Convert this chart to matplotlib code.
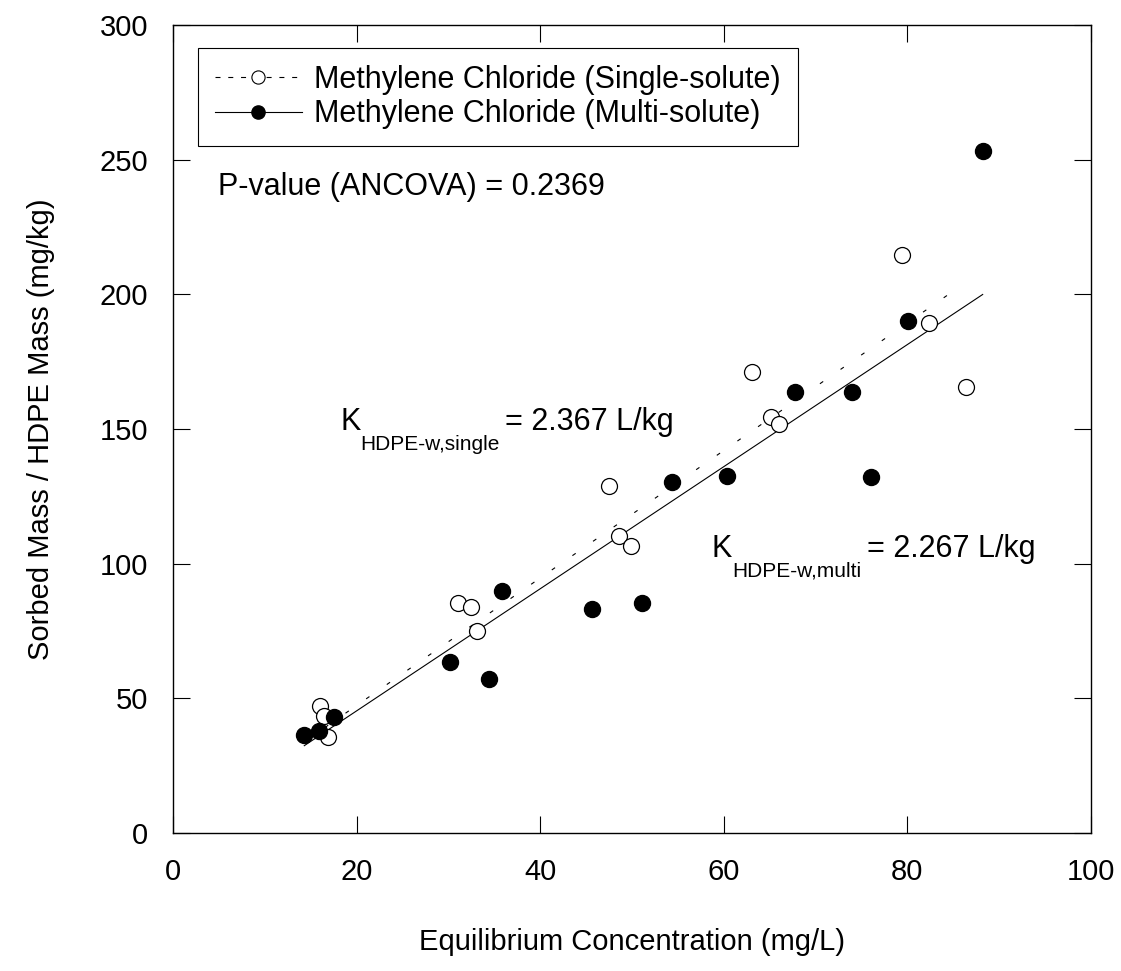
import numpy as np
import matplotlib
matplotlib.use("Agg")
import matplotlib.pyplot as plt
from matplotlib.lines import Line2D

plt.rcParams['font.family'] = ['Liberation Sans', 'DejaVu Sans']

# single-solute sorption data (open circles)
x_single = [16.0, 16.4, 16.9, 31.1, 32.5, 33.1, 47.5, 48.6, 49.9, 63.1, 65.1, 66.0, 79.4, 82.4, 86.4]
y_single = [47.2, 43.4, 35.5, 85.3, 83.8, 75.0, 128.9, 110.3, 106.6, 171.2, 154.6, 151.9, 214.5, 189.5, 165.6]

# multi-solute sorption data (filled circles)
x_multi = [14.3, 15.9, 17.5, 30.2, 34.4, 35.8, 45.6, 51.1, 54.4, 60.4, 67.8, 74.0, 76.0, 80.1, 88.2]
y_multi = [36.4, 38.0, 43.2, 63.6, 57.1, 90.0, 83.1, 85.3, 130.2, 132.5, 163.6, 163.8, 132.3, 190.2, 253.4]

# partition coefficients (slopes of fits through origin) and x-range of each fit line
k_single = 2.367
k_multi = 2.267
fit_x_single = [14.3, 86.0]
fit_x_multi = [14.3, 88.2]

fig = plt.figure(figsize=(11.21, 9.71), dpi=100)
ax = fig.add_axes([173/1121, 1-833/971, (1091-173)/1121, (833-25)/971])

xs = np.array(fit_x_single)
xm = np.array(fit_x_multi)
ax.plot(xs, k_single*xs, color='black', lw=0.8, dashes=(3.6, 19))
ax.plot(xm, k_multi*xm, color='black', lw=0.8)

ax.plot(x_single, y_single, 'o', ms=11.5, mfc='white', mec='black', mew=0.9, ls='none', zorder=3)
ax.plot(x_multi, y_multi, 'o', ms=11.5, mfc='black', mec='black', ls='none', zorder=3)

ax.set_xlim(0, 100)
ax.set_ylim(0, 300)
ax.set_xticks([0, 20, 40, 60, 80, 100])
ax.set_yticks([0, 50, 100, 150, 200, 250, 300])
ax.tick_params(direction='in', length=12, width=0.8, top=True, right=True,
               labelsize=21, pad=18)
for s in ax.spines.values():
    s.set_linewidth(1.0)

ax.set_xlabel('Equilibrium Concentration (mg/L)', fontsize=21, labelpad=30)
ax.set_ylabel('Sorbed Mass / HDPE Mass (mg/kg)', fontsize=21, labelpad=32)

# legend with proxy handles
h1 = Line2D([], [], color='black', lw=0.8, dashes=(4.5, 7), marker='o', ms=9.5,
            mfc='white', mec='black', mew=0.8)
h2 = Line2D([], [], color='black', lw=0.8, marker='o', ms=9.5, mfc='black', mec='black')
leg = ax.legend([h1, h2], ['Methylene Chloride (Single-solute)', 'Methylene Chloride (Multi-solute)'],
                loc='upper left', bbox_to_anchor=(0.0272, 0.9715), borderaxespad=0,
                fontsize=22, handlelength=2.85, handletextpad=0.4, labelspacing=0.15,
                fancybox=False, framealpha=1, edgecolor='black', borderpad=0.55)
leg.get_frame().set_linewidth(0.8)

ax.text(4.9, 240, 'P-value (ANCOVA) = 0.2369', fontsize=22, va='center')

def k_label(x, y, sub, rest):
    k = ax.text(x, y, 'K', fontsize=22, va='baseline')
    s = ax.annotate(sub, xy=(1, 0), xycoords=k, xytext=(0, -9), textcoords='offset points',
                    fontsize=15, va='baseline')
    ax.annotate(rest, xy=(1, 0), xycoords=(s, k), xytext=(4, 0), textcoords='offset points',
                fontsize=22, va='bottom')

k_label(18.2, 149.6, 'HDPE-w,single', '= 2.367 L/kg')
k_label(58.7, 102.6, 'HDPE-w,multi', '= 2.267 L/kg')

fig.savefig('out.png', dpi=100)
